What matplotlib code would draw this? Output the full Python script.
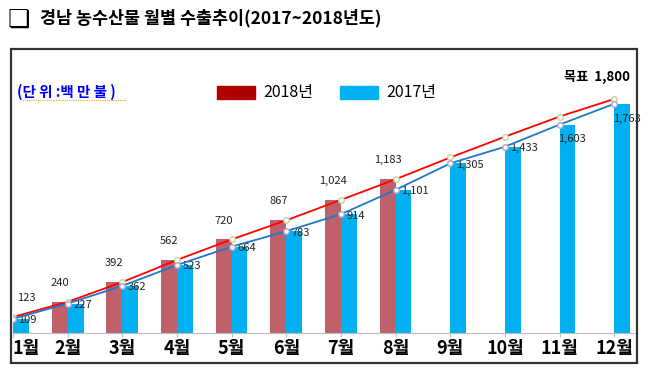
import matplotlib
matplotlib.use("Agg")
import matplotlib.pyplot as plt
from matplotlib.patches import Rectangle
from matplotlib.lines import Line2D
import numpy as np

plt.rcParams["font.family"] = ["Noto Sans CJK KR", "DejaVu Sans"]

# Data
months = ["1월", "2월", "3월", "4월", "5월", "6월", "7월", "8월", "9월", "10월", "11월", "12월"]
exp_2018 = [123, 240, 392, 562, 720, 867, 1024, 1183]
exp_2017 = [109, 227, 362, 523, 664, 783, 914, 1101, 1305, 1433, 1603, 1763]
# target line (2018 actuals, then path to the 1,800 goal)
target = [123, 240, 392, 562, 720, 867, 1024, 1183, 1350, 1510, 1665, 1800]

x = np.arange(1, 13)
x18 = x[:len(exp_2018)]
w = 0.29

fig = plt.figure(figsize=(6.5, 3.73), dpi=100)
ax = fig.add_axes([0.02, 0.1072, 0.957, 0.732])

ax.bar(x18 - w / 2, exp_2018, width=w, color="#BE616A", zorder=2)
ax.bar(x + w / 2, exp_2017, width=w, color="#00B0F0", zorder=2)

ax.plot(x, target, color="#FF0000", lw=1.3, marker="o", ms=4,
        mfc="white", mec="#C3D69B", mew=1, zorder=4)
ax.plot(x, exp_2017, color="#1F78C8", lw=1.3, marker="o", ms=4,
        mfc="white", mec="#B3A2C7", mew=1, zorder=4)

# value labels
for i, v in enumerate(exp_2018):
    xp = max(x18[i] - w / 2, 1.25)
    ax.annotate(f"{v:,}", (xp, v), xytext=(0, 10), textcoords="offset points",
                ha="center", va="bottom", fontsize=8, color="#222222")
for i, v in enumerate(exp_2017):
    if i >= 10:
        ax.annotate(f"{v:,}", (x[i], v), xytext=(-1, -7), textcoords="offset points",
                    ha="left", va="top", fontsize=8, color="#222222")
    else:
        ax.annotate(f"{v:,}", (x[i], v), xytext=(4, -1), textcoords="offset points",
                    ha="left", va="center", fontsize=8, color="#222222")

ax.annotate(f"목표  {target[-1]:,}", (x[-1], target[-1]), xytext=(11, 16),
            textcoords="offset points", ha="right", va="center",
            fontsize=9.5, fontweight="bold")

ax.set_xlim(1, 12.38)
ax.set_ylim(0, 2100)
ax.set_xticks(x)
ax.set_xticklabels(months, fontsize=13, fontweight="bold")
ax.get_xticklabels()[0].set_ha("left")
ax.tick_params(axis="x", length=3, pad=1, color="#BFBFBF")
ax.set_yticks([])
for s in ["left", "top", "right"]:
    ax.spines[s].set_visible(False)
ax.spines["bottom"].set_color("#BFBFBF")

# frame around chart
fig.add_artist(Rectangle((11 / 650, 1 - 363 / 373), 626 / 650, 314 / 373,
                         transform=fig.transFigure, fill=False,
                         ec="#333333", lw=1.6))

# title and unit
fig.text(0.011, 0.948, "❏", fontsize=18, va="center", ha="left",
         family=["DejaVu Sans"])
fig.text(0.061, 0.950, "경남 농수산물 월별 수출추이(2017~2018년도)",
         fontsize=12.5, fontweight="bold", va="center", ha="left")
fig.text(0.026, 0.753, "(단 위 :백 만 불 )", fontsize=10.5, fontweight="bold",
         color="#0000FF", va="center", ha="left")
fig.add_artist(Line2D([22 / 650, 126 / 650], [1 - 100 / 373, 1 - 100 / 373],
                      transform=fig.transFigure, color="#F0A030", lw=0.8,
                      ls=(0, (1, 1))))

# legend
legend_items = [("2018년", "#B00000", 217), ("2017년", "#00B0F0", 340)]
for label, col, px in legend_items:
    fig.add_artist(Rectangle((px / 650, 1 - 99 / 373), 38 / 650, 13 / 373,
                             transform=fig.transFigure, color=col))
    fig.text((px + 46) / 650, 1 - 92 / 373, label, fontsize=11.5,
             va="center", ha="left")

fig.savefig("out.png", dpi=100)
